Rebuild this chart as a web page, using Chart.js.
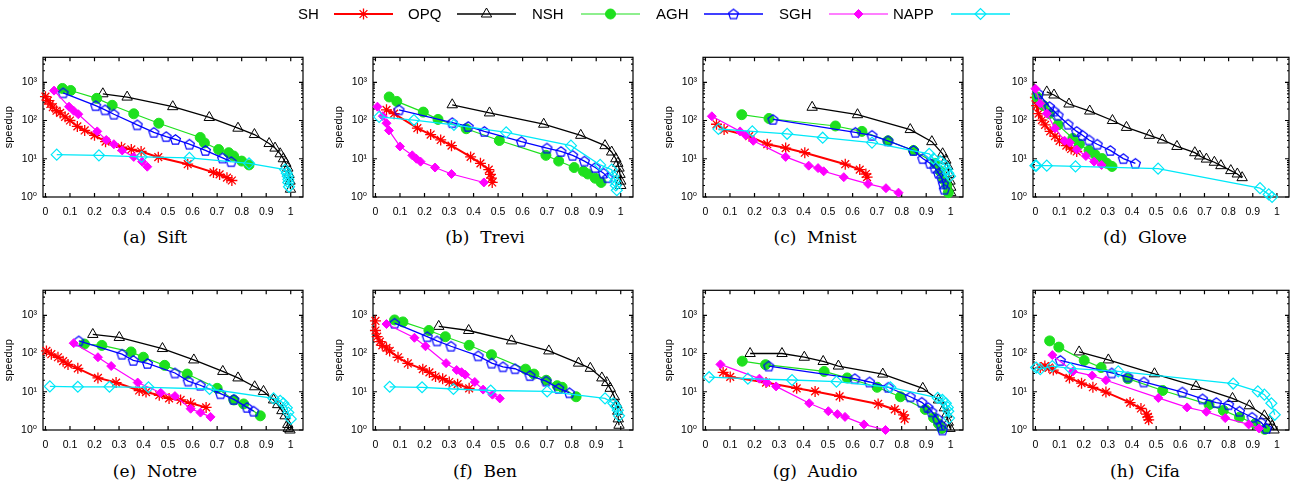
<!DOCTYPE html>
<html>
<head>
<meta charset="utf-8">
<script src="https://cdn.jsdelivr.net/npm/chart.js@4.4.1/dist/chart.umd.min.js"></script>
<style>
  body { margin: 0; background: #fff; width: 1296px; height: 485px; overflow: hidden; position: relative; }
  .panel { position: absolute; }
  .cap { position: absolute; font-family: 'DejaVu Serif', 'Liberation Serif', serif; font-size: 17px; color: #000;
         transform: translateX(-50%); white-space: pre; line-height: 20px; }
</style>
</head>
<body>
<canvas id="legend" width="1296" height="28" style="position:absolute;left:0;top:0"></canvas>
<script>
// series order and styles (legend order)
const METHODS = ['SH', 'OPQ', 'NSH', 'AGH', 'SGH', 'NAPP'];
const PANEL_NAMES = ['(a)  Sift', '(b)  Trevi', '(c)  Mnist', '(d)  Glove', '(e)  Notre', '(f)  Ben', '(g)  Audio', '(h)  Cifa'];
const X_TICKS = [0, 0.1, 0.2, 0.3, 0.4, 0.5, 0.6, 0.7, 0.8, 0.9, 1];
const Y_TICKS = [1, 10, 100, 1000];

// [recall, speedup]
const sift_SH = [[0,420],[0.01,330],[0.02,270],[0.03,223],[0.045,180],[0.06,158],[0.08,125],[0.10,100],[0.13,70],[0.16,55],[0.2,41],[0.245,28],[0.31,20],[0.35,17.5],[0.39,15.5],[0.46,11],[0.58,7.2],[0.685,4.4],[0.71,3.9],[0.74,3.2],[0.76,2.7]];
const sift_OPQ = [[0.234,500],[0.333,410],[0.519,230],[0.668,120],[0.785,63],[0.852,43],[0.912,25],[0.936,19],[0.957,13.5],[0.97,10],[0.98,7.6],[0.988,5.7],[0.993,3.9],[0.997,2.6],[0.999,1.6]];
const sift_NSH = [[0.069,690],[0.103,610],[0.209,380],[0.272,250],[0.36,150],[0.462,85],[0.631,36],[0.648,26],[0.706,17.4],[0.747,14.4],[0.767,11.8],[0.8,8.7],[0.83,6.9]];
const sift_AGH = [[0.072,530],[0.205,245],[0.243,190],[0.279,146],[0.374,77],[0.442,49],[0.492,38],[0.53,32],[0.587,24],[0.652,16.5],[0.722,10.5],[0.757,8.4]];
const sift_SGH = [[0.035,605],[0.096,230],[0.115,180],[0.134,146],[0.211,52],[0.248,31],[0.279,24],[0.313,16.5],[0.36,11.2],[0.394,8.4],[0.415,6.2]];
const sift_NAPP = [[0.046,12.8],[0.218,12.3],[0.392,11.2],[0.587,10.5],[0.83,7.6],[0.977,5.2],[0.984,4.2],[0.988,3.5],[0.99,2.9],[0.99,2.4],[0.993,1.85]];

const trevi_SH = [[0.045,190],[0.076,151],[0.171,63],[0.225,43],[0.266,31],[0.31,22],[0.388,11.2],[0.428,7.6],[0.462,5.2],[0.469,3.9],[0.473,3.1],[0.476,2.4]];
const trevi_OPQ = [[0.313,258],[0.465,158],[0.686,80],[0.837,41],[0.936,22],[0.963,15],[0.98,10],[0.988,7.6],[0.993,5.7],[0.997,3.9],[1.0,2.6],[1.0,2.0]];
const trevi_NSH = [[0.056,413],[0.087,316],[0.195,166],[0.255,107],[0.37,61],[0.505,30],[0.695,12.3],[0.747,8.7],[0.81,5.9],[0.848,4.7],[0.866,4.0],[0.896,3.1],[0.92,2.4]];
const trevi_AGH = [[0.096,190],[0.313,88],[0.378,70],[0.444,52],[0.595,28],[0.699,19],[0.756,15.5],[0.804,12.3],[0.852,8.7],[0.896,5.9],[0.93,4.2],[0.947,3.2]];
const trevi_SGH = [[0.008,230],[0.03,130],[0.045,85],[0.055,55],[0.1,21],[0.15,12.3],[0.167,10],[0.184,8.4],[0.243,5.9],[0.31,4.0],[0.442,2.4]];
const trevi_NAPP = [[0.015,125],[0.157,103],[0.32,77],[0.533,49],[0.797,22],[0.916,6.9],[0.963,5.2],[0.97,3.5],[0.977,2.6],[0.98,2.0],[0.984,1.5]];

const mnist_SH = [[0.045,80],[0.076,58],[0.178,39],[0.252,24],[0.327,19],[0.405,14.4],[0.57,7.2],[0.629,5.2],[0.654,4.0],[0.659,3.3]];
const mnist_OPQ = [[0.435,222],[0.62,142],[0.835,58],[0.923,28],[0.967,13.5],[0.98,9.2],[0.988,6.3],[0.993,3.9],[0.997,2.6],[1.0,1.8],[1.0,1.3]];
const mnist_NSH = [[0.148,142],[0.259,113],[0.53,72],[0.638,52],[0.744,29.5],[0.848,16.5],[0.936,7.6],[0.957,4.7],[0.97,2.9],[0.984,2.0],[0.99,1.3]];
const mnist_AGH = [[0.275,107],[0.611,49],[0.679,41],[0.744,29.5],[0.848,16.5],[0.886,10.1],[0.916,7.6],[0.936,5.7],[0.95,4.2],[0.963,3.2],[0.97,2.2],[0.974,1.6]];
const mnist_SGH = [[0.026,129],[0.141,52],[0.164,41],[0.195,29.5],[0.327,11.2],[0.421,6.6],[0.459,5.7],[0.482,4.7],[0.564,3.3],[0.663,2.2],[0.736,1.7],[0.787,1.3]];
const mnist_NAPP = [[0.053,60],[0.191,52],[0.333,45],[0.478,35.5],[0.679,26.5],[0.912,13.5],[0.93,10.1],[0.957,8.7],[0.974,6.9],[0.984,5.2],[0.99,4.2],[0.997,3.5]];

const glove_SH = [[0,400],[0.005,245],[0.013,152],[0.027,103],[0.04,77],[0.061,52],[0.081,39],[0.10,29.5],[0.128,22],[0.148,18],[0.171,15.5]];
const glove_OPQ = [[0.047,560],[0.077,465],[0.139,270],[0.225,177],[0.319,100],[0.377,66],[0.472,41],[0.526,31],[0.586,21],[0.66,14.4],[0.68,11.8],[0.708,9.8],[0.741,8.1],[0.768,6.6],[0.809,4.9],[0.836,4.0],[0.856,3.2]];
const glove_NSH = [[0.007,413],[0.034,245],[0.058,152],[0.094,77],[0.155,34],[0.182,24],[0.222,16.5],[0.247,12.8],[0.276,10.1],[0.296,7.6],[0.317,6.3]];
const glove_AGH = [[0.013,500],[0.058,230],[0.077,177],[0.094,138],[0.135,80],[0.171,52],[0.195,41],[0.222,31],[0.256,24],[0.31,16.5],[0.364,10.1],[0.414,7.6]];
const glove_SGH = [[0,680],[0.02,280],[0.047,152],[0.081,63],[0.121,29.5],[0.142,26.5],[0.171,17.4],[0.209,11.8],[0.243,8.4],[0.274,6.9]];
const glove_NAPP = [[0,6.6],[0.004,6.6],[0.047,6.6],[0.166,6.3],[0.508,5.5],[0.93,1.7],[0.966,1.17],[0.98,1.0]];

const notre_SH = [[0.004,117],[0.024,96],[0.051,80],[0.072,63],[0.092,52],[0.132,41],[0.214,23],[0.288,17.4],[0.382,10.8],[0.41,9.8],[0.464,8.1],[0.504,6.7],[0.551,6.1],[0.592,5.0],[0.655,3.9]];
const notre_OPQ = [[0.193,315],[0.301,263],[0.477,135],[0.605,68],[0.723,34],[0.785,23],[0.853,13.5],[0.889,10.2],[0.93,6.1],[0.947,4.6],[0.964,3.2],[0.977,2.35],[0.988,1.4],[0.99,1.1],[0.997,1.0]];
const notre_NSH = [[0.159,177],[0.23,163],[0.349,110],[0.399,80],[0.486,49],[0.578,29],[0.70,12.3],[0.768,6.1],[0.808,4.8],[0.876,2.35]];
const notre_AGH = [[0.136,214],[0.312,96],[0.358,66],[0.416,55],[0.528,31],[0.582,19],[0.631,14.8],[0.714,8.9],[0.768,6.3],[0.822,3.9],[0.849,3.1]];
const notre_SGH = [[0.115,186],[0.214,80],[0.268,47],[0.376,17.4],[0.47,9.4],[0.528,7.7],[0.592,3.6],[0.632,2.85],[0.673,2.2]];
const notre_NAPP = [[0.018,13.8],[0.132,13.5],[0.261,13.5],[0.42,13.1],[0.669,11.8],[0.93,6.7],[0.957,5.8],[0.97,5.0],[0.984,3.8],[0.99,2.85],[1.0,1.95]];

const ben_SH = [[0,710],[0,400],[0.007,275],[0.018,205],[0.028,164],[0.045,141],[0.058,117],[0.092,80],[0.132,55],[0.193,39],[0.22,32],[0.245,25],[0.274,22],[0.301,18],[0.335,15.8],[0.382,12.3]];
const ben_OPQ = [[0.258,513],[0.38,400],[0.555,214],[0.707,117],[0.828,56],[0.876,41],[0.923,23],[0.943,17.4],[0.957,12.3],[0.974,7.4],[0.984,4.6],[0.988,3.1],[0.99,1.95],[0.993,1.33]];
const ben_NSH = [[0.078,755],[0.112,670],[0.218,400],[0.285,275],[0.382,164],[0.473,93],[0.612,39],[0.646,29],[0.696,20],[0.741,14.4],[0.761,13.1],[0.818,7.4]];
const ben_AGH = [[0.078,620],[0.211,275],[0.251,214],[0.308,155],[0.419,87],[0.474,56],[0.52,45],[0.569,40],[0.63,26.5],[0.696,19],[0.747,12.3],[0.791,9.4]];
const ben_SGH = [[0.045,590],[0.159,258],[0.204,155],[0.288,56],[0.331,37],[0.351,32.5],[0.366,28],[0.405,18],[0.439,11.4],[0.477,8.4],[0.507,6.7]];
const ben_NAPP = [[0.058,13.5],[0.19,13.1],[0.318,11.8],[0.47,10.8],[0.70,10.2],[0.936,6.7],[0.97,5.0],[0.98,4.2],[0.988,3.3],[0.993,2.35]];

const audio_SH = [[0.072,32],[0.101,24.5],[0.247,17.4],[0.372,12.3],[0.447,10.2],[0.547,7.6],[0.704,4.8],[0.772,3.45],[0.808,2.5],[0.812,1.95]];
const audio_OPQ = [[0.182,100],[0.312,100],[0.403,80],[0.48,62],[0.542,47],[0.723,29],[0.886,12.3],[0.95,6.1],[0.974,3.8],[0.984,2.6],[0.99,1.6],[0.997,1.1]];
const audio_NSH = [[0.15,63],[0.245,51],[0.484,34],[0.578,23],[0.70,13.1],[0.795,7.4],[0.896,3.45],[0.93,2.1],[0.95,1.46],[0.964,1.1]];
const audio_AGH = [[0.258,47],[0.609,22],[0.669,18],[0.745,13.1],[0.835,7.4],[0.882,5.3],[0.907,3.9],[0.923,3.0],[0.947,1.95],[0.961,1.33],[0.966,1.0]];
const audio_SGH = [[0.061,52],[0.22,22],[0.25,17.4],[0.288,13.8],[0.423,5.0],[0.501,3.1],[0.538,2.6],[0.569,2.2],[0.646,1.4],[0.734,1.0]];
const audio_NAPP = [[0.015,24],[0.173,22],[0.353,20.3],[0.534,18.4],[0.754,13.1],[0.947,6.9],[0.966,6.1],[0.98,5.0],[0.988,3.9],[0.99,3.1],[0.993,2.05]];

const cifa_SH = [[0.02,43],[0.039,47],[0.056,43],[0.074,37],[0.141,23],[0.191,16.8],[0.238,13.1],[0.292,9.8],[0.392,5.2],[0.437,3.65],[0.46,2.6],[0.466,2.2],[0.469,1.84]];
const cifa_OPQ = [[0.181,110],[0.302,68],[0.493,29.5],[0.665,13.8],[0.816,6.7],[0.886,4.3],[0.948,2.35],[0.97,1.7],[0.98,1.26],[0.988,1.0]];
const cifa_NSH = [[0.059,214],[0.097,147],[0.202,66],[0.272,43],[0.383,22],[0.527,10.8],[0.719,4.6],[0.778,3.25],[0.845,2.15],[0.91,1.46],[0.95,1.04]];
const cifa_AGH = [[0.103,66],[0.316,31],[0.383,24.5],[0.449,18],[0.608,9.8],[0.692,6.5],[0.749,5.2],[0.80,4.6],[0.845,3.1],[0.897,2.15],[0.934,1.6],[0.957,1.1]];
const cifa_SGH = [[0.07,91],[0.155,34],[0.235,26.5],[0.292,20],[0.509,6.9],[0.628,3.9],[0.708,3.0],[0.786,2.05],[0.883,1.4],[0.926,1.1]];
const cifa_NAPP = [[0.003,43],[0.02,39],[0.07,47],[0.144,41],[0.343,34],[0.819,16.4],[0.921,10.2],[0.948,8.4],[0.977,5.0],[0.991,2.5]];

const PANELS = [
  [sift_SH, sift_OPQ, sift_NSH, sift_AGH, sift_SGH, sift_NAPP],
  [trevi_SH, trevi_OPQ, trevi_NSH, trevi_AGH, trevi_SGH, trevi_NAPP],
  [mnist_SH, mnist_OPQ, mnist_NSH, mnist_AGH, mnist_SGH, mnist_NAPP],
  [glove_SH, glove_OPQ, glove_NSH, glove_AGH, glove_SGH, glove_NAPP],
  [notre_SH, notre_OPQ, notre_NSH, notre_AGH, notre_SGH, notre_NAPP],
  [ben_SH, ben_OPQ, ben_NSH, ben_AGH, ben_SGH, ben_NAPP],
  [audio_SH, audio_OPQ, audio_NSH, audio_AGH, audio_SGH, audio_NAPP],
  [cifa_SH, cifa_OPQ, cifa_NSH, cifa_AGH, cifa_SGH, cifa_NAPP],
];

const SANS = "'Liberation Sans', 'DejaVu Sans', Arial, sans-serif";
const SUP = ['\u2070', '\u00b9', '\u00b2', '\u00b3'];

// open pentagon marker for AGH (Chart.js has no pentagon style)
function pentagon(r, color, lw) {
  const size = Math.ceil(2 * r + lw * 2 + 2);
  const c = document.createElement('canvas');
  c.width = c.height = size;
  const g = c.getContext('2d');
  g.strokeStyle = color; g.lineWidth = lw;
  g.beginPath();
  for (let i = 0; i < 5; i++) {
    const a = -Math.PI / 2 + i * 2 * Math.PI / 5;
    const px = size / 2 + r * Math.cos(a), py = size / 2 + r * Math.sin(a) + 0.5;
    i ? g.lineTo(px, py) : g.moveTo(px, py);
  }
  g.closePath(); g.stroke();
  return c;
}

const STYLE = [
  { color: '#ff0000', fill: '#ff0000', line: 2, point: 'star', r: 5.5, pw: 1.3 },
  { color: '#000000', fill: 'rgba(0,0,0,0)', line: 1.3, point: 'triangle', r: 6, pw: 1 },
  { color: '#1ee01e', fill: '#1ee01e', line: 1.2, point: 'circle', r: 5, pw: 1 },
  { color: '#0000ff', fill: 'rgba(0,0,0,0)', line: 1.3, point: pentagon(5.2, '#0000ff', 1.2), r: 5, pw: 1 },
  { color: '#ff00ff', fill: '#ff00ff', line: 1.2, point: 'rectRot', r: 4.5, pw: 1 },
  { color: '#00e8f8', fill: 'rgba(0,0,0,0)', line: 1.3, point: 'rectRot', r: 5.5, pw: 1.2 },
];

// box with inward ticks on all four sides, gnuplot style
const framePlugin = {
  id: 'frame',
  beforeDatasetsDraw(chart) {
    const { ctx, chartArea: a, scales: { x, y } } = chart;
    ctx.save();
    ctx.strokeStyle = '#000';
    ctx.lineWidth = 1.2;
    ctx.strokeRect(a.left, a.top, a.right - a.left, a.bottom - a.top);
    ctx.beginPath();
    X_TICKS.forEach(v => {
      const px = x.getPixelForValue(v);
      ctx.moveTo(px, a.bottom); ctx.lineTo(px, a.bottom - 4);
      ctx.moveTo(px, a.top); ctx.lineTo(px, a.top + 4);
    });
    for (let d = 0; d <= 3; d++) {
      for (let k = 1; k <= 9; k++) {
        const v = k * Math.pow(10, d);
        if (v > y.max) break;
        const py = y.getPixelForValue(v);
        const len = k === 1 ? 4 : 2;
        ctx.moveTo(a.left, py); ctx.lineTo(a.left + len, py);
        ctx.moveTo(a.right, py); ctx.lineTo(a.right - len, py);
      }
    }
    ctx.stroke();
    ctx.restore();
  }
};

const ROW_TOP = [45, 278];
const CAP_Y = [227, 461];

PANELS.forEach((series, idx) => {
  const col = idx % 4, row = Math.floor(idx / 4);
  const w = col === 3 ? 306 : 330;
  const h = 180;
  const canvas = document.createElement('canvas');
  canvas.className = 'panel';
  canvas.width = w; canvas.height = h;
  canvas.style.left = (col * 330) + 'px';
  canvas.style.top = ROW_TOP[row] + 'px';
  canvas.style.width = w + 'px'; canvas.style.height = h + 'px';
  document.body.appendChild(canvas);

  const cap = document.createElement('div');
  cap.className = 'cap';
  cap.textContent = PANEL_NAMES[idx];
  cap.style.left = (col * 330 + 155) + 'px';
  cap.style.top = CAP_Y[row] + 'px';
  document.body.appendChild(cap);

  new Chart(canvas, {
    type: 'scatter',
    data: {
      datasets: METHODS.map((m, i) => ({
        label: m,
        data: series[i].map(([x, y]) => ({ x, y })),
        showLine: true,
        tension: 0,
        borderColor: STYLE[i].color,
        borderWidth: STYLE[i].line,
        backgroundColor: STYLE[i].fill,
        pointStyle: STYLE[i].point,
        pointRadius: STYLE[i].r,
        pointBorderWidth: STYLE[i].pw,
        pointBorderColor: STYLE[i].color,
        pointBackgroundColor: STYLE[i].fill,
        order: METHODS.length - i,
        clip: false,
      })),
    },
    options: {
      responsive: false,
      animation: false,
      events: [],
      layout: { padding: { top: 5, right: w - 303, left: 0, bottom: 0 } },
      plugins: { legend: { display: false }, tooltip: { enabled: false } },
      scales: {
        x: {
          type: 'linear', min: -0.01, max: 1.05,
          afterBuildTicks: s => { s.ticks = X_TICKS.map(v => ({ value: v })); },
          afterFit: s => { s.height = 28; },
          grid: { display: false, drawTicks: false },
          border: { display: false },
          ticks: {
            color: '#000', padding: 9, autoSkip: false, maxRotation: 0,
            font: { family: SANS, size: 10.5 },
            callback: v => String(Number(v.toFixed(2))),
          },
        },
        y: {
          type: 'logarithmic', min: 1, max: 4500,
          afterBuildTicks: s => { s.ticks = Y_TICKS.map(v => ({ value: v })); },
          afterFit: s => { s.width = 43; },
          grid: { display: false, drawTicks: false },
          border: { display: false },
          ticks: {
            color: '#000', padding: 6, autoSkip: false,
            font: { family: SANS, size: 10.5 },
            callback: v => '10' + SUP[Math.round(Math.log10(v))],
          },
          title: {
            display: true, text: 'speedup', color: '#000',
            font: { family: SANS, size: 11 }, padding: { top: 2, bottom: 0 },
          },
        },
      },
    },
    plugins: [framePlugin],
  });
});

// shared legend across the top
(function drawLegend() {
  const c = document.getElementById('legend');
  const ctx = c.getContext('2d');
  const textX = [298, 408, 532, 656, 779, 893];
  const lineX = [334, 457, 581, 704, 829, 951];
  const cy = 14;
  ctx.font = '15px ' + SANS;
  ctx.textBaseline = 'middle';
  METHODS.forEach((m, i) => {
    const s = STYLE[i];
    ctx.fillStyle = '#000';
    ctx.fillText(m, textX[i], cy + 1);
    ctx.strokeStyle = s.color;
    ctx.lineWidth = s.line;
    ctx.beginPath();
    ctx.moveTo(lineX[i], cy); ctx.lineTo(lineX[i] + 59, cy);
    ctx.stroke();
    ctx.fillStyle = s.fill;
    ctx.lineWidth = s.pw;
    Chart.helpers.drawPoint(ctx, { pointStyle: s.point, radius: s.r, rotation: 0, borderWidth: s.pw }, lineX[i] + 29.5, cy);
  });
})();
</script>
</body>
</html>
